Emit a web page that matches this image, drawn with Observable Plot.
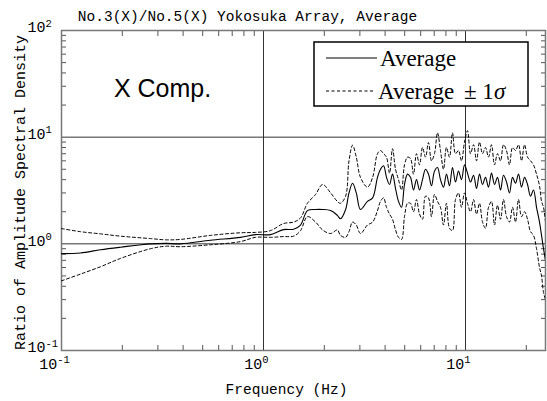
<!DOCTYPE html>
<html><head><meta charset="utf-8">
<script src="https://cdn.jsdelivr.net/npm/d3@7"></script>
<script src="https://cdn.jsdelivr.net/npm/@observablehq/plot@0.6"></script>
<style>
body{margin:0;background:#fff;}
#wrap{position:relative;width:547px;height:401px;}
#legend{position:absolute;left:0;top:0;pointer-events:none;}
</style></head><body><div id="wrap"></div>
<script>
const title = "No.3(X)/No.5(X) Yokosuka Array, Average";
const xLabel = "Frequency (Hz)";
const yLabel = "Ratio of Amplitude Spectral Density";
const annotation = "X Comp.";
const legendLabels = ["Average", "Average", "\u00B1 1"];

const freq = [0.1, 0.124, 0.156, 0.196, 0.276, 0.33, 0.388, 0.547, 0.77, 0.912,
  1.083, 1.256, 1.41, 1.525, 1.65, 1.81, 1.96, 2.15, 2.32, 2.405,
  2.55, 2.65, 2.76, 2.88, 3.02, 3.27, 3.47, 3.667, 3.795, 3.928,
  4.064, 4.206, 4.352, 4.504, 4.66, 4.823, 4.989, 5.164, 5.342, 5.528,
  5.72, 5.92, 6.125, 6.339, 6.558, 6.787, 7.022, 7.267, 7.518, 7.781,
  8.05, 8.331, 8.62, 8.921, 9.232, 9.554, 9.886, 10.23, 10.59, 10.96,
  11.34, 11.73, 12.14, 12.56, 13.0, 13.45, 13.92, 14.4, 14.91, 15.42,
  15.96, 16.51, 17.09, 17.68, 18.3, 18.94, 19.6, 20.28, 20.98, 21.71,
  22.47, 23.25, 23.79, 24.33, 24.89];
const average = [0.81, 0.82, 0.88, 0.93, 1.0, 1.01, 1.0, 1.08, 1.15, 1.22,
  1.22, 1.36, 1.37, 1.5, 2.05, 2.1, 2.1, 2.05, 1.85, 1.72,
  2.1, 3.0, 3.7, 3.0, 2.1, 2.5, 2.7, 4.2, 5.0, 5.4,
  4.2, 3.6, 4.5, 3.3, 2.5, 2.2, 3.6, 4.5, 4.2, 3.2,
  4.0, 3.2, 4.0, 5.0, 4.5, 3.5, 4.8, 5.2, 4.0, 3.4,
  4.5, 3.5, 5.2, 3.8, 4.8, 4.0, 5.5, 4.6, 3.8, 4.4,
  3.3, 4.5, 3.6, 4.2, 3.4, 4.6, 3.6, 4.2, 3.2, 4.4,
  3.8, 3.0, 4.2, 3.7, 4.5, 3.4, 4.2, 3.6, 2.8, 3.2,
  2.2, 1.6, 1.2, 0.9, 0.7];
const upper = [1.39, 1.30, 1.24, 1.18, 1.12, 1.09, 1.1, 1.2, 1.27, 1.28,
  1.33, 1.55, 1.6, 1.75, 2.4, 2.9, 3.6, 3.0, 2.5, 2.4,
  2.8, 6.0, 8.4, 6.5, 4.2, 3.4, 4.2, 7.0, 7.5, 7.0,
  6.5, 4.6, 7.8, 5.0, 4.0, 3.2, 5.5, 6.5, 6.3, 4.5,
  7.0, 5.5, 8.0, 6.5, 8.9, 6.0, 7.0, 11.0, 7.5, 5.0,
  8.0, 6.5, 11.0, 7.0, 7.5, 6.0, 9.0, 11.5, 7.0, 8.5,
  6.0, 9.0, 7.0, 8.0, 6.5, 8.5, 5.5, 7.0, 6.0, 8.5,
  7.5, 5.5, 8.0, 7.5, 8.5, 6.0, 8.5, 6.5, 6.0, 5.5,
  4.5, 3.5, 2.5, 2.2, 1.6];
const lower = [0.45, 0.52, 0.61, 0.73, 0.9, 0.95, 0.94, 0.98, 1.05, 1.15,
  1.15, 1.17, 1.18, 1.33, 1.8, 1.6, 1.35, 1.25, 1.35, 1.2,
  1.15, 1.3, 1.6, 1.5, 1.25, 1.5, 1.6, 2.05, 2.5, 2.7,
  2.2, 1.9, 1.7, 1.35, 1.15, 1.1, 1.8, 2.4, 2.4, 2.0,
  2.6, 1.9, 1.7, 2.8, 2.7, 1.8, 2.9, 2.5, 2.2, 1.5,
  2.4, 1.4, 1.33, 2.6, 3.0, 2.2, 3.0, 2.4, 2.0, 2.6,
  1.9, 2.4, 1.6, 1.4, 2.2, 2.5, 1.5, 2.3, 1.7, 2.6,
  1.8, 1.6, 2.2, 1.6, 2.6, 1.8, 2.0, 1.7, 1.3, 1.2,
  0.9, 0.6, 0.5, 0.35, 0.3];

const xMajor = [0.1, 1, 10];
const yMajor = [0.1, 1, 10, 100];
const xMinor = [0.2, 0.3, 0.4, 0.5, 0.6, 0.7, 0.8, 0.9, 2, 3, 4, 5, 6, 7, 8, 9, 20];
const yMinor = [0.2, 0.3, 0.4, 0.5, 0.6, 0.7, 0.8, 0.9, 2, 3, 4, 5, 6, 7, 8, 9,
  20, 30, 40, 50, 60, 70, 80, 90];

const rows = freq.map((f, i) => ({f, avg: average[i], up: upper[i], lo: lower[i]}));
const expFmt = d => "10^" + Math.round(Math.log10(d));
const mono = "Liberation Mono, DejaVu Sans Mono, monospace";

const chart = Plot.plot({
  width: 547, height: 401,
  marginLeft: 61, marginRight: 2, marginTop: 30, marginBottom: 51,
  style: {fontFamily: mono, fontSize: "15px", background: "#fff", color: "#000"},
  x: {type: "log", domain: [0.1, 24.89]},
  y: {type: "log", domain: [0.1, 100]},
  marks: [
    Plot.gridX(xMajor, {stroke: "#333", strokeOpacity: 1, strokeWidth: 1}),
    Plot.gridY(yMajor, {stroke: "#333", strokeOpacity: 1, strokeWidth: 1}),
    Plot.axisX(xMinor, {anchor: "bottom", tickSize: -5, tickFormat: () => "", label: null, stroke: "#555"}),
    Plot.axisX(xMinor, {anchor: "top", tickSize: -5, tickFormat: () => "", label: null, stroke: "#555"}),
    Plot.axisY(yMinor, {anchor: "left", tickSize: -5, tickFormat: () => "", label: null, stroke: "#555"}),
    Plot.axisY(yMinor, {anchor: "right", tickSize: -5, tickFormat: () => "", label: null, stroke: "#555"}),
    Plot.axisX(xMajor, {anchor: "bottom", tickSize: 0, tickPadding: 8, dx: -7, tickFormat: expFmt, label: null, fontSize: 15}),
    Plot.axisY(yMajor, {anchor: "left", tickSize: 0, tickPadding: 0, dx: -34, dy: -3, textAnchor: "start", tickFormat: expFmt, label: null, fontSize: 15}),
    Plot.frame({stroke: "#777", strokeWidth: 1.5}),
    Plot.line(rows, {x: "f", y: "up", stroke: "#000", strokeWidth: 1, strokeDasharray: "3,2.5", curve: "catmull-rom", clip: true}),
    Plot.line(rows, {x: "f", y: "lo", stroke: "#000", strokeWidth: 1, strokeDasharray: "3,2.5", curve: "catmull-rom", clip: true}),
    Plot.line(rows, {x: "f", y: "avg", stroke: "#000", strokeWidth: 1.1, curve: "catmull-rom", clip: true}),
    Plot.text([title], {frameAnchor: "top", dx: -56, dy: -14, textAnchor: "middle", lineAnchor: "middle", fontSize: 14.5, fontFamily: mono}),
    Plot.text([xLabel], {frameAnchor: "bottom", dx: -17, dy: 39, textAnchor: "middle", lineAnchor: "middle", fontSize: 14.5, fontFamily: mono}),
    Plot.text([yLabel], {frameAnchor: "left", dx: -41, dy: 2, rotate: -90, textAnchor: "middle", lineAnchor: "middle", fontSize: 15, fontFamily: mono}),
    Plot.text([annotation], {frameAnchor: "top-left", dx: 101, dy: 58, textAnchor: "middle", lineAnchor: "middle", fontSize: 25, fontFamily: "Liberation Sans, Arial, sans-serif"})
  ]
});

document.getElementById("wrap").appendChild(chart);

// superscript exponents in tick labels
d3.select(chart).selectAll('g[aria-label$="tick label"] text').each(function() {
  const t = this.textContent;
  if (!t || t.indexOf("^") < 0) return;
  const [base, exp] = t.split("^");
  const sel = d3.select(this);
  sel.text(base);
  sel.append("tspan").attr("dy", "-0.55em").attr("font-size", "0.7em").text(exp);
});

// legend box
const leg = d3.select("#wrap").append("svg").attr("id", "legend").attr("width", 547).attr("height", 401);
leg.append("rect").attr("x", 314).attr("y", 42).attr("width", 214).attr("height", 64)
  .attr("fill", "#fff").attr("stroke", "#000").attr("stroke-width", 1.5);
leg.append("line").attr("x1", 326).attr("x2", 377).attr("y1", 58).attr("y2", 58)
  .attr("stroke", "#000").attr("stroke-width", 1.2);
leg.append("text").attr("x", 380).attr("y", 66).attr("font-family", "Liberation Serif, Times New Roman, serif")
  .attr("font-size", 23).text(legendLabels[0]);
leg.append("line").attr("x1", 326).attr("x2", 375).attr("y1", 91).attr("y2", 91)
  .attr("stroke", "#000").attr("stroke-width", 1.1).attr("stroke-dasharray", "3,2.5");
leg.append("text").attr("x", 378).attr("y", 99).attr("font-family", "Liberation Serif, Times New Roman, serif")
  .attr("font-size", 23).text(legendLabels[1]);
const pm = leg.append("text").attr("x", 464).attr("y", 99).attr("font-family", "Liberation Serif, Times New Roman, serif")
  .attr("font-size", 23).text(legendLabels[2]);
pm.append("tspan").attr("font-style", "italic").text("\u03C3");
</script>
</body></html>
